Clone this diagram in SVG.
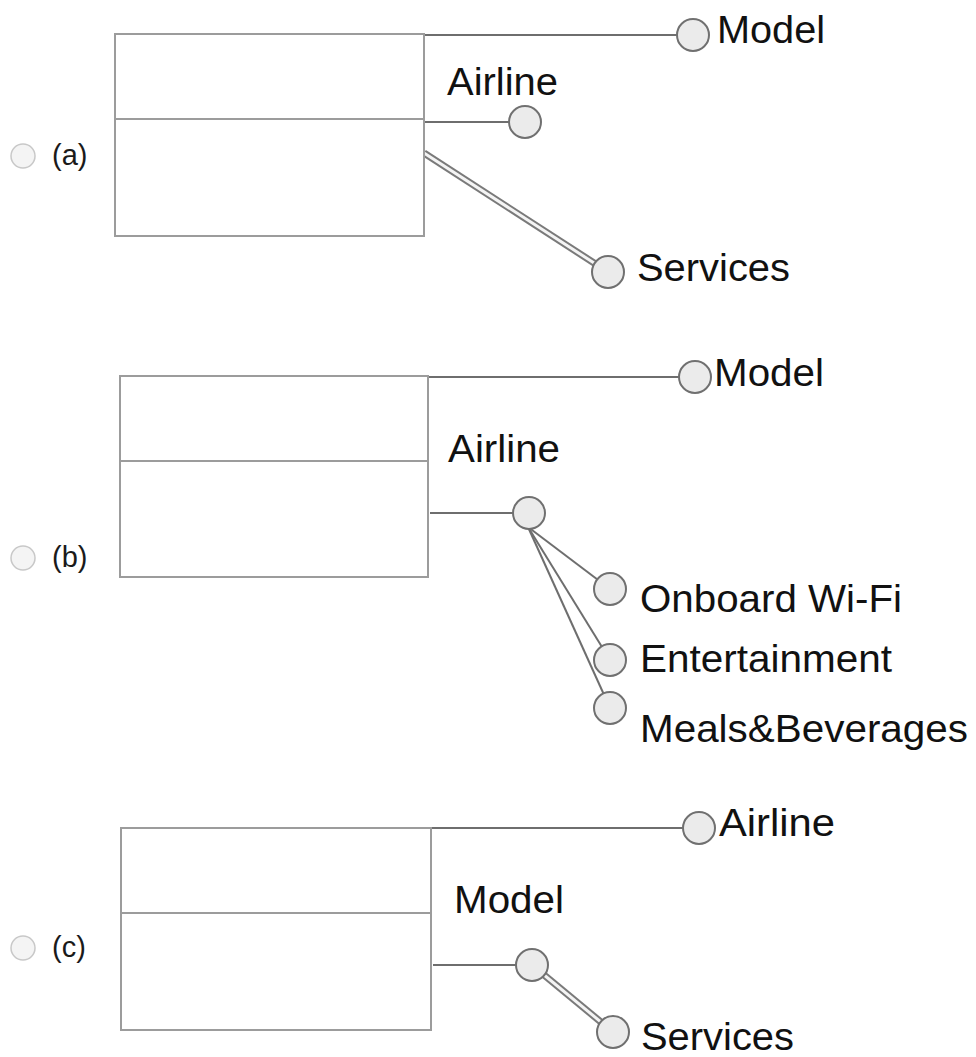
<svg xmlns="http://www.w3.org/2000/svg" width="976" height="1057" viewBox="0 0 976 1057">
<style>
.bg{fill:#ffffff}
.radio{fill:#f4f4f4;stroke:#c8c8c8;stroke-width:1.5}
.opt{font-family:"Liberation Sans",Arial,sans-serif;font-size:29px;fill:#1a1a1a}
.box{fill:#ffffff;stroke:#9c9c9c;stroke-width:2}
.div{stroke:#9c9c9c;stroke-width:2}
.ln{stroke:#6e6e6e;stroke-width:2;fill:none}
.dbl-o{stroke:#7a7a7a;stroke-width:7;fill:none}
.dbl-i{stroke:#f4f4f4;stroke-width:3;fill:none}
.node{fill:#ebebeb;stroke:#707070;stroke-width:2}
.lbl{font-family:"Liberation Sans",Arial,sans-serif;font-size:38px;fill:#111}
</style>
<rect class="bg" x="0" y="0" width="976" height="1057"/>

<g id="connectors">
  <!-- (a) -->
  <line class="ln" x1="424" y1="35" x2="693" y2="35"/>
  <line class="ln" x1="425" y1="122" x2="525" y2="122"/>
  <line class="dbl-o" x1="424" y1="153" x2="608" y2="272"/>
  <line class="dbl-i" x1="424" y1="153" x2="608" y2="272"/>
  <!-- (b) -->
  <line class="ln" x1="428" y1="377" x2="695" y2="377"/>
  <line class="ln" x1="430" y1="513" x2="529" y2="513"/>
  <line class="ln" x1="528" y1="527" x2="610" y2="589"/>
  <line class="ln" x1="528" y1="527" x2="610" y2="660"/>
  <line class="ln" x1="528" y1="527" x2="610" y2="708"/>
  <!-- (c) -->
  <line class="ln" x1="431" y1="828" x2="699" y2="828"/>
  <line class="ln" x1="433" y1="965" x2="532" y2="965"/>
  <line class="dbl-o" x1="532" y1="965" x2="613" y2="1032"/>
  <line class="dbl-i" x1="532" y1="965" x2="613" y2="1032"/>
</g>

<g id="option-a">
  <circle class="radio" cx="23" cy="156" r="12"/>
  <text class="opt" x="52" y="165">(a)</text>
  <rect class="box" x="115" y="34" width="309" height="202"/>
  <line class="div" x1="115" y1="119" x2="424" y2="119"/>
</g>
<g id="a-model">
  <circle class="node" cx="693" cy="35" r="16"/>
  <text class="lbl" x="717" y="43" textLength="108" lengthAdjust="spacingAndGlyphs">Model</text>
</g>
<g id="a-airline">
  <circle class="node" cx="525" cy="122" r="16"/>
  <text class="lbl" x="447" y="95" textLength="111" lengthAdjust="spacingAndGlyphs">Airline</text>
</g>
<g id="a-services">
  <circle class="node" cx="608" cy="272" r="16"/>
  <text class="lbl" x="637" y="281" textLength="153" lengthAdjust="spacingAndGlyphs">Services</text>
</g>

<g id="option-b">
  <circle class="radio" cx="23" cy="558" r="12"/>
  <text class="opt" x="52" y="567">(b)</text>
  <rect class="box" x="120" y="376" width="308" height="201"/>
  <line class="div" x1="120" y1="461" x2="428" y2="461"/>
</g>
<g id="b-model">
  <circle class="node" cx="695" cy="377" r="16"/>
  <text class="lbl" x="714" y="386" textLength="110" lengthAdjust="spacingAndGlyphs">Model</text>
</g>
<g id="b-airline">
  <circle class="node" cx="529" cy="513" r="16"/>
  <text class="lbl" x="448" y="462" textLength="112" lengthAdjust="spacingAndGlyphs">Airline</text>
</g>
<g id="b-wifi">
  <circle class="node" cx="610" cy="589" r="16"/>
  <text class="lbl" x="640" y="612" textLength="262" lengthAdjust="spacingAndGlyphs">Onboard Wi-Fi</text>
</g>
<g id="b-entertainment">
  <circle class="node" cx="610" cy="660" r="16"/>
  <text class="lbl" x="640" y="672" textLength="252" lengthAdjust="spacingAndGlyphs">Entertainment</text>
</g>
<g id="b-meals">
  <circle class="node" cx="610" cy="708" r="16"/>
  <text class="lbl" x="640" y="742" textLength="328" lengthAdjust="spacingAndGlyphs">Meals&amp;Beverages</text>
</g>

<g id="option-c">
  <circle class="radio" cx="23" cy="948" r="12"/>
  <text class="opt" x="52" y="957">(c)</text>
  <rect class="box" x="121" y="828" width="310" height="202"/>
  <line class="div" x1="121" y1="913" x2="431" y2="913"/>
</g>
<g id="c-airline">
  <circle class="node" cx="699" cy="828" r="16"/>
  <text class="lbl" x="719" y="836" textLength="116" lengthAdjust="spacingAndGlyphs">Airline</text>
</g>
<g id="c-model">
  <circle class="node" cx="532" cy="965" r="16"/>
  <text class="lbl" x="454" y="913" textLength="110" lengthAdjust="spacingAndGlyphs">Model</text>
</g>
<g id="c-services">
  <circle class="node" cx="613" cy="1032" r="16"/>
  <text class="lbl" x="641" y="1050" textLength="153" lengthAdjust="spacingAndGlyphs">Services</text>
</g>
</svg>
